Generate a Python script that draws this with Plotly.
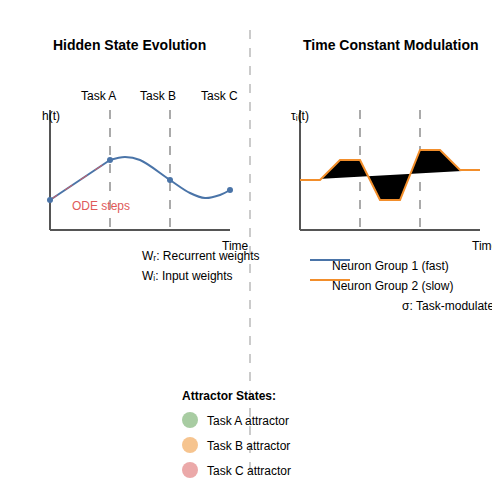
import plotly.graph_objects as go

# data (canvas pixel coordinates)
h_pts_x = [50, 110, 170, 230]
h_pts_y = [200, 160, 180, 190]
curve_x = [110, 125, 140, 170, 190, 205, 220, 230]
curve_y = [160, 157, 160, 180, 193, 198, 195, 190]
tau_x = [300, 320, 340, 360, 380, 400, 420, 440, 460, 480]
tau_y = [180, 180, 160, 160, 200, 200, 150, 150, 170, 170]
task_labels = ["Task A", "Task B", "Task C"]
task_x = [98, 158, 219]
attractor_labels = ["Task A attractor", "Task B attractor", "Task C attractor"]
attractor_colors = ["#a8cca2", "#f6c48f", "#eba9a9"]
attractor_y = [420, 445, 470]

F = "Liberation Sans, Arial, sans-serif"
fig = go.Figure()
fig.add_trace(go.Scatter(x=h_pts_x[:2], y=h_pts_y[:2], mode="lines", line=dict(color="#4a74a8", width=2)))
fig.add_trace(go.Scatter(x=h_pts_x[:2], y=h_pts_y[:2], mode="lines", line=dict(color="#e05a5a", width=1, dash="dash")))
fig.add_trace(go.Scatter(x=curve_x, y=curve_y, mode="lines", line=dict(color="#4a74a8", width=2, shape="spline")))
fig.add_trace(go.Scatter(x=h_pts_x, y=h_pts_y, mode="markers", marker=dict(color="#4a74a8", size=6)))
fig.add_trace(go.Scatter(x=tau_x, y=tau_y, mode="lines", fill="toself", fillcolor="black",
                         line=dict(color="#f28e2b", width=2)))
fig.add_trace(go.Scatter(x=[190]*3, y=attractor_y, mode="markers",
                         marker=dict(color=attractor_colors, size=16)))

shapes = []
def L(x0, y0, x1, y1, color="#555", w=2, dash=None):
    shapes.append(dict(type="line", x0=x0, y0=y0, x1=x1, y1=y1, xref="x", yref="y", layer="below",
                       line=dict(color=color, width=w, dash=dash)))
L(250, 30, 250, 480, "#bbb", 1.5, "dash")
for x in [110, 170, 360, 420]:
    L(x, 110, x, 230, "#aaa", 2, "dash")
L(50, 110, 50, 230); L(50, 230, 230, 230)
L(300, 110, 300, 230); L(300, 230, 480, 230)
L(310, 260, 350, 260, "#4a74a8", 2)
L(310, 280, 350, 280, "#f28e2b", 2)

ann = []
def T(x, y, s, size=12, color="black", anchor="left", bold=False):
    ann.append(dict(x=x, y=y, xref="x", yref="y", text=("<b>%s</b>" % s) if bold else s,
                    showarrow=False, xanchor=anchor, yanchor="middle",
                    font=dict(family=F, size=size, color=color)))
T(129, 45, "Hidden State Evolution", 14, anchor="center", bold=True)
T(391, 45, "Time Constant Modulation", 14, anchor="center", bold=True)
for s, x in zip(task_labels, task_x):
    T(x, 96, s, anchor="center")
T(40, 116, "h(t)"); T(289, 116, "τᵢ(t)")
T(220, 246, "Time"); T(470, 246, "Time")
T(70, 206, "ODE steps", color="#e05a5a")
T(140, 256, "Wᵣ: Recurrent weights"); T(140, 276, "Wᵢ: Input weights")
T(330, 266, "Neuron Group 1 (fast)"); T(330, 286, "Neuron Group 2 (slow)")
T(400, 306, "σ: Task-modulated")
T(180, 396, "Attractor States:", bold=True)
for s, y in zip(attractor_labels, attractor_y):
    T(205, y + 1, s)

fig.update_layout(width=500, height=500, margin=dict(l=0, r=0, t=0, b=0), showlegend=False,
                  plot_bgcolor="white", paper_bgcolor="white", shapes=shapes, annotations=ann,
                  xaxis=dict(range=[8, 508], visible=False, fixedrange=True),
                  yaxis=dict(range=[508, 8], visible=False, fixedrange=True))
fig.write_html("out.html")
